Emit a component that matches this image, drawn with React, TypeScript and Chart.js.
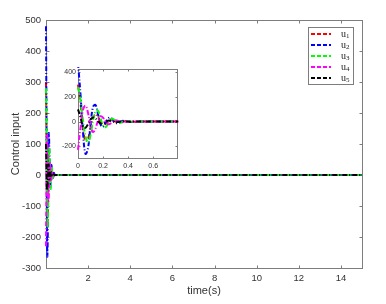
import React, { useEffect, useRef } from 'react';
import { Chart, registerables } from 'chart.js';

Chart.register(...registerables);

// ---- data ----
const times = [0, 0.02, 0.04, 0.06, 0.08, 0.1, 0.12, 0.14, 0.16, 0.18, 0.2, 0.22, 0.24, 0.26, 0.28, 0.3, 0.32, 0.34, 0.36, 0.38, 0.4, 0.45, 0.5, 0.6, 0.7, 0.8, 1, 15];
const u1 = [300, 150, -60, -155, -140, -50, 30, 60, 38, 0, -22, -18, 0, 12, 10, 0, -6, -4, 1, 3, 1, -1, 0, 0, 0, 0, 0, 0];
const u2 = [480, 220, -90, -262, -215, -30, 120, 135, 60, -25, -42, -10, 25, 32, 10, -10, -13, -2, 7, 6, 0, -3, 1, 0, 0, 0, 0, 0];
const u3 = [280, 175, 10, -120, -170, -110, 10, 85, 88, 30, -35, -45, -15, 18, 22, 6, -8, -9, 0, 5, 3, -2, 0, 0, 0, 0, 0, 0];
const u4 = [-230, -50, 95, 128, 70, -35, -85, -55, 10, 42, 32, 0, -20, -15, 2, 10, 6, -2, -5, -2, 1, 1, 0, 0, 0, 0, 0, 0];
const u5 = [100, 35, -40, -50, -20, 18, 34, 25, 2, -14, -12, -1, 8, 7, 1, -4, -3, 0, 2, 1, 0, 0, 0, 0, 0, 0, 0, 0];

const seriesValues = [u1, u2, u3, u4, u5];
const seriesNames = ['u1', 'u2', 'u3', 'u4', 'u5'];
const seriesColors = ['#ff0000', '#0000ff', '#00ff00', '#ff00ff', '#000000'];

const mainXTicks = [2, 4, 6, 8, 10, 12, 14];
const mainYTicks = [-300, -200, -100, 0, 100, 200, 300, 400, 500];
const insetXTicks = [0, 0.2, 0.4, 0.6];
const insetYTicks = [-200, 0, 200, 400];

const FONT = '"Liberation Sans", Arial, sans-serif';
const AXIS_COLOR = '#7d7d7d';
const TEXT_COLOR = '#333333';

function makeDatasets(width: number, dash: number[]) {
  return seriesValues.map((vals, i) => ({
    label: seriesNames[i],
    data: times.map((t, k) => ({ x: t, y: vals[k] })),
    borderColor: seriesColors[i],
    backgroundColor: seriesColors[i],
    borderWidth: width,
    borderDash: dash,
    pointRadius: 0,
    tension: 0.4,
    fill: false,
    clip: 2,
    order: seriesValues.length - i,
  }));
}

function boxPlugin(xTicks: number[], yTicks: number[], tickLen: number, whiteBg: boolean) {
  return {
    id: 'matlabBox',
    beforeDatasetsDraw(chart: any) {
      const { ctx, chartArea } = chart;
      const { left, right, top, bottom } = chartArea;
      const xs = chart.scales.x;
      const ys = chart.scales.y;
      ctx.save();
      if (whiteBg) {
        ctx.fillStyle = '#ffffff';
        ctx.fillRect(left, top, right - left, bottom - top);
      }
      ctx.strokeStyle = AXIS_COLOR;
      ctx.lineWidth = 1;
      ctx.setLineDash([]);
      const L = Math.round(left) + 0.5, R = Math.round(right) + 0.5, T = Math.round(top) + 0.5, B = Math.round(bottom) + 0.5;
      ctx.strokeRect(L, T, R - L, B - T);
      ctx.beginPath();
      xTicks.forEach((v) => {
        const px = Math.round(xs.getPixelForValue(v)) + 0.5;
        ctx.moveTo(px, B); ctx.lineTo(px, B - tickLen);
        ctx.moveTo(px, T); ctx.lineTo(px, T + tickLen);
      });
      yTicks.forEach((v) => {
        const py = Math.round(ys.getPixelForValue(v)) + 0.5;
        ctx.moveTo(L, py); ctx.lineTo(L + tickLen, py);
        ctx.moveTo(R, py); ctx.lineTo(R - tickLen, py);
      });
      ctx.stroke();
      ctx.restore();
    },
  };
}

const legendPlugin = {
  id: 'legendBox',
  afterDraw(chart: any) {
    const ctx = chart.ctx;
    ctx.save();
    const x0 = 308, y0 = 27, w = 45, h = 57;
    ctx.fillStyle = '#ffffff';
    ctx.fillRect(x0, y0, w, h);
    ctx.strokeStyle = AXIS_COLOR;
    ctx.lineWidth = 1;
    ctx.strokeRect(x0 + 0.5, y0 + 0.5, w, h);
    seriesNames.forEach((name, i) => {
      const y = 34 + i * 11;
      ctx.strokeStyle = seriesColors[i];
      ctx.lineWidth = 2;
      ctx.setLineDash([4, 2]);
      ctx.beginPath();
      ctx.moveTo(311, y);
      ctx.lineTo(331, y);
      ctx.stroke();
      ctx.setLineDash([]);
      ctx.fillStyle = '#222222';
      ctx.textBaseline = 'middle';
      ctx.textAlign = 'left';
      ctx.font = '10px "Liberation Serif", serif';
      ctx.fillText(name[0], 341, y);
      const wu = ctx.measureText(name[0]).width;
      ctx.font = '7px "Liberation Serif", serif';
      ctx.fillText(name.slice(1), 341 + wu, y + 2.5);
    });
    ctx.restore();
  },
};

function fmt(v: number) {
  return String(Math.round(v * 10) / 10);
}

function mainConfig(): any {
  return {
    type: 'line',
    data: { datasets: makeDatasets(2, [5, 2, 1, 2]) },
    options: {
      animation: false,
      responsive: false,
      devicePixelRatio: 1,
      layout: { padding: { top: 20, right: 24, left: 0, bottom: 0 } },
      plugins: { legend: { display: false }, tooltip: { enabled: false } },
      scales: {
        x: {
          type: 'linear',
          min: 0,
          max: 15,
          grid: { display: false, drawTicks: false },
          border: { display: false },
          afterBuildTicks: (s: any) => { s.ticks = mainXTicks.map((v) => ({ value: v })); },
          afterFit: (s: any) => { s.height = 36; },
          ticks: { font: { family: FONT, size: 9.5 }, color: TEXT_COLOR, padding: 5, maxRotation: 0, autoSkip: false, callback: (v: any) => fmt(v) },
          title: { display: true, text: 'time(s)', font: { family: FONT, size: 11 }, color: TEXT_COLOR, padding: { top: 0, bottom: 6 } },
        },
        y: {
          type: 'linear',
          min: -300,
          max: 500,
          grid: { display: false, drawTicks: false },
          border: { display: false },
          afterBuildTicks: (s: any) => { s.ticks = mainYTicks.map((v) => ({ value: v })); },
          afterFit: (s: any) => { s.width = 46; },
          ticks: { font: { family: FONT, size: 9.5 }, color: TEXT_COLOR, padding: 5, autoSkip: false, callback: (v: any) => fmt(v) },
          title: { display: true, text: 'Control input', font: { family: FONT, size: 11 }, color: TEXT_COLOR, padding: { top: 9, bottom: 0 } },
        },
      },
    },
    plugins: [boxPlugin(mainXTicks, mainYTicks, 3, false), legendPlugin],
  };
}

function insetConfig(): any {
  return {
    type: 'line',
    data: { datasets: makeDatasets(2, [5, 2, 1, 2]) },
    options: {
      animation: false,
      responsive: false,
      devicePixelRatio: 1,
      layout: { padding: { top: 9, right: 8, left: 0, bottom: 0 } },
      plugins: { legend: { display: false }, tooltip: { enabled: false } },
      scales: {
        x: {
          type: 'linear',
          min: 0,
          max: 0.79,
          grid: { display: false, drawTicks: false },
          border: { display: false },
          afterBuildTicks: (s: any) => { s.ticks = insetXTicks.map((v) => ({ value: v })); },
          afterFit: (s: any) => { s.height = 17; },
          ticks: { font: { family: FONT, size: 7 }, color: TEXT_COLOR, padding: 4, maxRotation: 0, autoSkip: false, callback: (v: any) => fmt(v) },
        },
        y: {
          type: 'linear',
          min: -296,
          max: 428,
          grid: { display: false, drawTicks: false },
          border: { display: false },
          afterBuildTicks: (s: any) => { s.ticks = insetYTicks.map((v) => ({ value: v })); },
          afterFit: (s: any) => { s.width = 23; },
          ticks: { font: { family: FONT, size: 7 }, color: TEXT_COLOR, padding: 2, autoSkip: false, callback: (v: any) => fmt(v) },
        },
      },
    },
    plugins: [boxPlugin(insetXTicks, insetYTicks, 2, true)],
  };
}

export default function App() {
  const mainRef = useRef<HTMLCanvasElement>(null);
  const insetRef = useRef<HTMLCanvasElement>(null);
  useEffect(() => {
    Chart.defaults.font.family = FONT;
    const main = new Chart(mainRef.current as HTMLCanvasElement, mainConfig());
    const inset = new Chart(insetRef.current as HTMLCanvasElement, insetConfig());
    return () => {
      main.destroy();
      inset.destroy();
    };
  }, []);
  return (
    <div style={{ position: 'fixed', left: 0, top: 0, width: 386, height: 304, background: '#ffffff', overflow: 'hidden' }}>
      <canvas ref={mainRef} width={386} height={304} style={{ position: 'absolute', left: 0, top: 0, width: 386, height: 304 }} />
      <canvas ref={insetRef} width={130} height={115} style={{ position: 'absolute', left: 55, top: 60, width: 130, height: 115 }} />
    </div>
  );
}
